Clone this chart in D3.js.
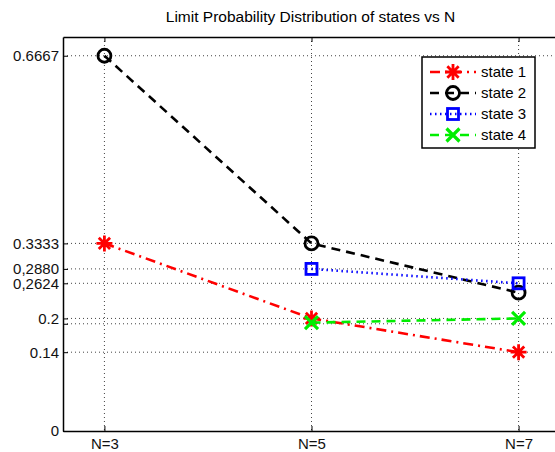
<!DOCTYPE html>
<html>
<head>
<meta charset="utf-8">
<script src="https://cdnjs.cloudflare.com/ajax/libs/d3/7.8.5/d3.min.js"></script>
<style>
body { margin: 0; background: #fff; }
text { font-family: "Liberation Sans", Arial, sans-serif; }
</style>
</head>
<body>
<div class="canvas"></div>
<script>
// data
var xs = [3, 5, 7]
var xLabels = ["N=3", "N=5", "N=7"]
var state1 = [0.3333, 0.2, 0.14]
var state2 = [0.6667, 0.3333, 0.2457]
var state3 = [null, 0.2880, 0.2624]
var state4 = [null, 0.1925, 0.2]
var yTicks = [0, 0.14, 0.1905, 0.2, 0.2624, 0.2880, 0.3333, 0.6667]
var yTickLabels = ["0", "0.14", "", "0.2", "0,2624", "0,2880", "0.3333", "0.6667"]
var seriesNames = ["state 1", "state 2", "state 3", "state 4"]

var svg = d3.select(".canvas").append("svg").attr("width", 555).attr("height", 452)

// plot box (right edge runs past the window, as in the picture)
var pLeft = 63, pRight = 560, pTop = 37, pBottom = 431

var x = d3.scaleLinear().domain([2.6, 7.4]).range([pLeft, pRight])
var y = d3.scaleLinear().domain([0, 0.7]).range([pBottom, pTop])

// grid lines (dotted)
xs.forEach(function(d) {
    svg.append('line')
        .attr('x1', x(d)).attr('x2', x(d))
        .attr('y1', pTop).attr('y2', pBottom)
        .attr('stroke', '#444').attr('stroke-width', 1)
        .attr('stroke-dasharray', '1,3')
})
yTicks.forEach(function(d) {
    if (d == 0) return
    svg.append('line')
        .attr('x1', pLeft).attr('x2', pRight)
        .attr('y1', y(d)).attr('y2', y(d))
        .attr('stroke', '#444').attr('stroke-width', 1)
        .attr('stroke-dasharray', '1,3')
})

// axes with inward ticks
var yAxis = d3.axisLeft(y).tickValues(yTicks)
    .tickFormat(function(d, i) { return yTickLabels[i] })
    .tickSizeInner(-5).tickSizeOuter(0).tickPadding(4)
var gy = svg.append('g').attr('transform', 'translate(' + pLeft + ',0)').call(yAxis)

var xAxis = d3.axisBottom(x).tickValues(xs)
    .tickFormat(function(d, i) { return xLabels[i] })
    .tickSizeInner(-5).tickSizeOuter(0).tickPadding(7)
var gx = svg.append('g').attr('transform', 'translate(0,' + pBottom + ')').call(xAxis)

var gt = svg.append('g').attr('transform', 'translate(0,' + pTop + ')')
    .call(d3.axisTop(x).tickValues(xs).tickFormat('').tickSizeInner(-5).tickSizeOuter(0))

;[gy, gx, gt].forEach(function(g) {
    g.selectAll('path').attr('stroke', '#000').attr('stroke-width', 1.5)
    g.selectAll('line').attr('stroke', '#000')
    g.selectAll('text').attr('font-size', 15).attr('fill', '#111')
        .style('font-family', '"Liberation Sans", Arial, sans-serif')
})

// title
svg.append('text')
    .attr('x', (pLeft + pRight) / 2 - 1).attr('y', 22)
    .attr('text-anchor', 'middle').attr('font-size', 15.5)
    .text('Limit Probability Distribution of states vs N')

// marker drawing
function drawMarker(g, kind, cx, cy, color) {
    if (kind == 'star') {
        var r = 8, p = ''
        ;[0, 45, 90, 135].forEach(function(a) {
            var t = a * Math.PI / 180
            p += 'M' + (cx - r * Math.cos(t)) + ',' + (cy - r * Math.sin(t)) +
                 'L' + (cx + r * Math.cos(t)) + ',' + (cy + r * Math.sin(t))
        })
        g.append('path').attr('d', p).attr('stroke', color).attr('stroke-width', 2.8)
    } else if (kind == 'circle') {
        g.append('circle').attr('cx', cx).attr('cy', cy).attr('r', 6.5)
            .attr('fill', 'none').attr('stroke', color).attr('stroke-width', 2.8)
    } else if (kind == 'square') {
        g.append('rect').attr('x', cx - 5.5).attr('y', cy - 5.5).attr('width', 11).attr('height', 11)
            .attr('fill', 'none').attr('stroke', color).attr('stroke-width', 2.8)
    } else if (kind == 'x') {
        var s = 6.5
        g.append('path')
            .attr('d', 'M' + (cx - s) + ',' + (cy - s) + 'L' + (cx + s) + ',' + (cy + s) +
                       'M' + (cx - s) + ',' + (cy + s) + 'L' + (cx + s) + ',' + (cy - s))
            .attr('stroke', color).attr('stroke-width', 3.2)
    }
}

var styles = [
    {data: state1, color: '#ff0000', dash: '10,5,2,5', marker: 'star'},
    {data: state2, color: '#000000', dash: '9,6', marker: 'circle'},
    {data: state3, color: '#0000ff', dash: '1.5,3.5', marker: 'square'},
    {data: state4, color: '#00ee00', dash: '9,6', marker: 'x'}
]

var line = d3.line()
    .defined(function(d) { return d.v != null })
    .x(function(d) { return x(d.x) })
    .y(function(d) { return y(d.v) })

styles.forEach(function(s) {
    var pts = xs.map(function(d, i) { return {x: d, v: s.data[i]} })
    var g = svg.append('g')
    g.append('path').datum(pts).attr('d', line)
        .attr('fill', 'none').attr('stroke', s.color).attr('stroke-width', 2.6)
        .attr('stroke-dasharray', s.dash)
    pts.forEach(function(p) {
        if (p.v != null) drawMarker(g, s.marker, x(p.x), y(p.v), s.color)
    })
})

// legend
var lg = svg.append('g')
lg.append('rect').attr('x', 422).attr('y', 57).attr('width', 113).attr('height', 91)
    .attr('fill', '#fff').attr('stroke', '#000').attr('stroke-width', 1.5)
styles.forEach(function(s, i) {
    var ly = 72 + i * 21
    lg.append('line').attr('x1', 430).attr('x2', 476).attr('y1', ly).attr('y2', ly)
        .attr('stroke', s.color).attr('stroke-width', 2.6).attr('stroke-dasharray', s.dash)
    drawMarker(lg, s.marker, 453, ly, s.color)
    lg.append('text').attr('x', 481).attr('y', ly + 5).attr('font-size', 15)
        .text(seriesNames[i])
})
</script>
</body>
</html>
